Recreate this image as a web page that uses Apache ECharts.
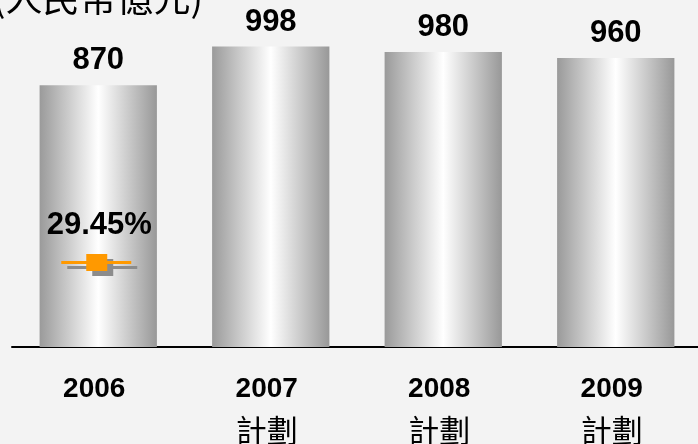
<!DOCTYPE html>
<html>
<head>
<meta charset="utf-8">
<script src="https://cdn.jsdelivr.net/npm/echarts@6/dist/echarts.min.js"></script>
<style>
  html, body { margin: 0; padding: 0; background: #f3f3f3; }
  #chart { width: 698px; height: 444px; }
</style>
</head>
<body>
<div id="chart"></div>
<script>
// Revenue in 100 million RMB, with plan years flagged under the axis
const years = ['2006', '2007', '2008', '2009'];
const yearNotes = ['', '計劃', '計劃', '計劃'];
const revenue = [870, 998, 980, 960];
const ratio = [29.45];
const unitTitle = '(人民幣億元)';

const chart = echarts.init(document.getElementById('chart'), null, { renderer: 'canvas' });

const barGradient = new echarts.graphic.LinearGradient(0, 0, 1, 0, [
  { offset: 0, color: '#9a9a9a' },
  { offset: 0.5, color: '#ffffff' },
  { offset: 1, color: '#989898' }
]);

chart.setOption({
  backgroundColor: '#f3f3f3',
  animation: false,
  title: {
    text: unitTitle,
    left: -12,
    top: -26,
    textStyle: {
      fontFamily: '"Noto Sans CJK TC", "Liberation Sans", sans-serif',
      fontSize: 37,
      fontWeight: 'normal',
      color: '#000'
    }
  },
  grid: { left: 12, width: 690, top: 46, bottom: 97, outerBoundsMode: 'none', containLabel: false },
  xAxis: {
    type: 'category',
    data: years,
    axisTick: { show: false },
    axisLine: { lineStyle: { color: '#000', width: 2 } },
    axisLabel: {
      margin: 22,
      formatter: function (value, idx) {
        const note = yearNotes[idx];
        return note ? '{y|' + value + '}\n{n|' + note + '}' : '{y|' + value + '}';
      },
      rich: {
        y: {
          fontFamily: '"Liberation Sans", Arial, sans-serif',
          fontWeight: 'bold',
          fontSize: 28,
          lineHeight: 41,
          padding: [0, 8, 0, 0],
          color: '#000'
        },
        n: {
          fontFamily: '"Noto Sans CJK TC", sans-serif',
          fontSize: 31,
          lineHeight: 41,
          padding: [0, 8, 0, 0],
          color: '#000'
        }
      }
    }
  },
  yAxis: [
    { type: 'value', min: 0, max: 1000, show: false },
    { type: 'value', min: 0, max: 105, show: false }
  ],
  series: [
    {
      type: 'bar',
      data: revenue,
      barWidth: '68%',
      itemStyle: { color: barGradient },
      label: {
        show: true,
        position: 'top',
        distance: 9,
        fontFamily: '"Liberation Sans", Arial, sans-serif',
        fontWeight: 'bold',
        fontSize: 31,
        color: '#000'
      },
      z: 1
    },
    {
      type: 'line',
      yAxisIndex: 1,
      data: ratio,
      symbol: 'path://M0,7 L70,7 L70,10 L0,10 Z M25,0 L46,0 L46,17 L25,17 Z',
      symbolSize: [70, 17],
      symbolOffset: [-2, 0],
      itemStyle: {
        color: '#ff9900',
        shadowColor: '#8c8c8c',
        shadowBlur: 0,
        shadowOffsetX: 6,
        shadowOffsetY: 5
      },
      label: {
        show: true,
        position: 'top',
        distance: 13,
        offset: [3, 0],
        formatter: function (p) { return p.value.toFixed(2) + '%'; },
        fontFamily: '"Liberation Sans", Arial, sans-serif',
        fontWeight: 'bold',
        fontSize: 31,
        color: '#000'
      },
      z: 3
    }
  ]
});
</script>
</body>
</html>
